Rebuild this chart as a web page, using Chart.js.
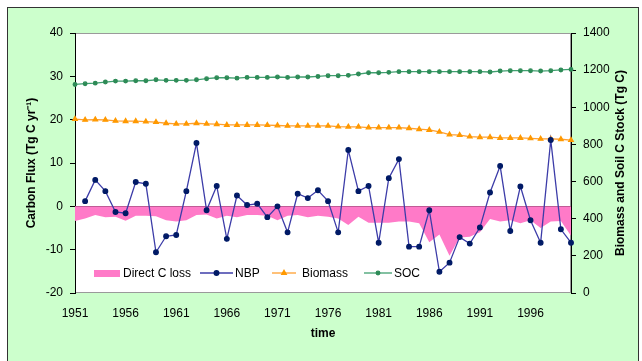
<!DOCTYPE html>
<html>
<head>
<meta charset="utf-8">
<script src="https://cdn.jsdelivr.net/npm/chart.js@4.4.1/dist/chart.umd.min.js"></script>
<style>
html, body { margin: 0; padding: 0; background: #fff; }
#wrap { position: relative; width: 642px; height: 361px; overflow: hidden; }
#frame { position: absolute; left: 7px; top: 7px; width: 632px; height: 362px; box-sizing: border-box;
         border: 1px solid #333; background: #ccffcc; }
#box { position: absolute; left: 0; top: 0; width: 642px; height: 361px; }
</style>
</head>
<body>
<div id="wrap">
  <div id="frame"></div>
  <div id="box"><canvas id="chart"></canvas></div>
</div>
<script>
const years = ['1951','1952','1953','1954','1955','1956','1957','1958','1959','1960',
               '1961','1962','1963','1964','1965','1966','1967','1968','1969','1970',
               '1971','1972','1973','1974','1975','1976','1977','1978','1979','1980',
               '1981','1982','1983','1984','1985','1986','1987','1988','1989','1990',
               '1991','1992','1993','1994','1995','1996','1997','1998','1999','2000']
const shownYears = ['1951','1956','1961','1966','1971','1976','1981','1986','1991','1996']

const directLoss = [-3.4,-2.8,-2.0,-2.5,-2.4,-3.3,-2.2,-2.2,-2.3,-3.2,
                    -3.5,-3.2,-2.0,-1.9,-2.8,-2.2,-2.5,-2.0,-2.0,-2.2,
                    -3.2,-2.2,-2.0,-2.5,-2.2,-2.4,-2.8,-4.3,-2.4,-3.8,
                    -3.8,-3.8,-3.5,-3.5,-3.9,-8.3,-6.5,-11.4,-7.2,-7.0,
                    -6.0,-2.9,-3.5,-3.2,-3.9,-3.2,-5.0,-3.5,-3.4,-6.8]
const nbp = [null,1.2,6.1,3.5,-1.3,-1.6,5.6,5.2,-10.6,-6.9,
             -6.6,3.5,14.6,-0.9,4.7,-7.5,2.5,0.3,0.6,-2.5,
             0,-6.0,2.9,1.9,3.7,1.2,-6.0,13.0,3.5,4.7,
             -8.4,6.5,10.9,-9.3,-9.3,-0.9,-15.1,-13.0,-7.1,-8.6,
             -4.9,3.2,9.3,-5.7,4.6,-3.2,-8.4,15.3,-5.3,-8.4]
const biomass = [936,932,934,932,927,925,925,923,920,914,
                 911,911,914,911,909,905,905,905,905,904,
                 902,900,900,900,900,900,896,895,895,891,
                 891,891,891,887,882,878,868,853,850,842,
                 839,839,835,835,835,833,830,830,828,823]
const soc = [1123,1127,1130,1136,1141,1141,1143,1143,1148,1145,
             1145,1145,1148,1154,1159,1159,1157,1161,1161,1161,
             1163,1161,1163,1163,1166,1170,1170,1172,1179,1186,
             1186,1188,1192,1192,1192,1192,1192,1192,1192,1192,
             1192,1190,1195,1197,1197,1197,1195,1197,1201,1204]

const leftTitle = 'Carbon Flux (Tg C yr\u207B\u00B9)'
const rightTitle = 'Biomass and Soil C Stock (Tg C)'
const FONT = '"Liberation Sans", Arial, sans-serif'

const plotBg = {
    id: 'plotBg',
    beforeDraw(chart) {
        const {ctx, chartArea: a} = chart
        ctx.save()
        ctx.fillStyle = '#fff'
        ctx.fillRect(a.left, a.top, a.right - a.left, a.bottom - a.top)
        ctx.strokeStyle = '#9a9a9a'
        ctx.lineWidth = 1
        ctx.strokeRect(a.left + 0.5, a.top + 0.5, a.right - a.left - 1, a.bottom - a.top - 1)
        ctx.restore()
    }
}

// right title reads bottom-to-top, and the legend sits inside the plot
const extras = {
    id: 'extras',
    afterDraw(chart) {
        const {ctx, chartArea: a} = chart
        const s = chart.scales.y1
        ctx.save()
        ctx.fillStyle = '#000'
        ctx.font = 'bold 12px ' + FONT
        ctx.textAlign = 'center'
        ctx.textBaseline = 'middle'
        ctx.translate(s.right - 11, (a.top + a.bottom) / 2)
        ctx.rotate(-Math.PI / 2)
        ctx.fillText(rightTitle, 0, 0)
        ctx.restore()

        const ds = chart.data.datasets
        const y = a.bottom - 20
        const x0 = a.left
        ctx.save()
        ctx.font = '12px ' + FONT
        ctx.textBaseline = 'middle'
        ctx.fillStyle = ds[0].backgroundColor
        ctx.fillRect(x0 + 19, y - 3, 26, 7)
        ctx.fillStyle = '#000'
        ctx.fillText(ds[0].label, x0 + 48, y + 1)

        const items = [[ds[1], 125, 158, 160], [ds[2], 197, 221, 227], [ds[3], 289, 317, 319]]
        items.forEach(([d, l, r, t]) => {
            ctx.strokeStyle = d.borderColor
            ctx.lineWidth = d.borderWidth
            ctx.beginPath()
            ctx.moveTo(x0 + l, y)
            ctx.lineTo(x0 + r, y)
            ctx.stroke()
            ctx.fillStyle = d.pointBackgroundColor
            ctx.strokeStyle = d.pointBorderColor
            Chart.helpers.drawPoint(ctx, {
                pointStyle: d.pointStyle, radius: d.pointRadius, rotation: 0,
                borderWidth: 1
            }, x0 + (l + r) / 2, y)
            ctx.fillStyle = '#000'
            ctx.fillText(d.label, x0 + t, y + 1)
        })
        ctx.restore()
    }
}

const tickFont = {family: FONT, size: 12}
const titleFont = {family: FONT, size: 12, weight: 'bold'}

new Chart(document.getElementById('chart'), {
    type: 'line',
    data: {
        labels: years,
        datasets: [{
            label: 'Direct C loss',
            data: directLoss,
            yAxisID: 'y',
            fill: 'origin',
            backgroundColor: '#ff7ac8',
            borderWidth: 0,
            pointRadius: 0,
            order: 4
        }, {
            label: 'NBP',
            data: nbp,
            yAxisID: 'y',
            borderColor: '#3c3ca8',
            borderWidth: 1.3,
            pointStyle: 'circle',
            pointRadius: 2.3,
            pointBackgroundColor: '#001a66',
            pointBorderColor: '#001a66',
            order: 1
        }, {
            label: 'Biomass',
            data: biomass,
            yAxisID: 'y1',
            borderColor: '#ffa030',
            borderWidth: 1.3,
            pointStyle: 'triangle',
            pointRadius: 2.6,
            pointBackgroundColor: '#ff9900',
            pointBorderColor: '#ff9900',
            order: 2
        }, {
            label: 'SOC',
            data: soc,
            yAxisID: 'y1',
            borderColor: '#40a070',
            borderWidth: 1.3,
            pointStyle: 'circle',
            pointRadius: 1.8,
            pointBackgroundColor: '#2e8b57',
            pointBorderColor: '#2e8b57',
            order: 3
        }]
    },
    options: {
        responsive: true,
        maintainAspectRatio: false,
        animation: false,
        devicePixelRatio: 1,
        layout: {padding: {left: 20, right: 10, top: 33, bottom: 16}},
        plugins: {legend: {display: false}, tooltip: {enabled: false}},
        scales: {
            x: {
                type: 'category',
                position: 'bottom',
                offset: false,
                grid: {display: false, drawTicks: false},
                border: {display: false},
                ticks: {
                    autoSkip: false, maxRotation: 0, padding: 13,
                    color: '#000', font: tickFont,
                    callback: function (v) {
                        const lab = this.getLabelForValue(v)
                        return shownYears.includes(lab) ? lab : ''
                    }
                },
                title: {display: true, text: 'time', color: '#000', font: titleFont},
                afterFit: s => { s.height = 52 }
            },
            xZero: {
                type: 'category',
                axis: 'x',
                position: {y: 0},
                offset: false,
                z: 1,
                grid: {drawOnChartArea: false, drawTicks: true, tickLength: 4, color: '#000', offset: false},
                border: {display: true, color: '#000', width: 1},
                ticks: {display: false, autoSkip: false}
            },
            y: {
                position: 'left',
                min: -20, max: 40,
                ticks: {stepSize: 10, padding: 7, color: '#000', font: tickFont, callback: v => String(v)},
                grid: {drawOnChartArea: false, drawTicks: true, tickLength: 5, color: '#000'},
                border: {display: true, color: '#000', width: 1},
                title: {display: true, text: leftTitle, color: '#000', font: titleFont},
                afterFit: s => { s.width = 55 }
            },
            y1: {
                position: 'right',
                min: 0, max: 1400,
                ticks: {stepSize: 200, padding: 7, color: '#000', font: tickFont, callback: v => String(v)},
                grid: {drawOnChartArea: false, drawTicks: true, tickLength: 5, color: '#000'},
                border: {display: true, color: '#000', width: 1},
                afterFit: s => { s.width = 61 }
            }
        }
    },
    plugins: [plotBg, extras]
})
</script>
</body>
</html>
